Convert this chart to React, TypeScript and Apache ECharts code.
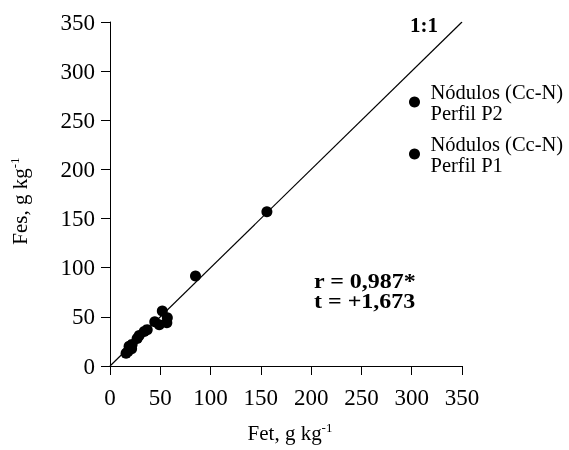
import React, { useEffect, useRef } from "react";
import * as echarts from "echarts";

const FONT = "Liberation Serif";

const seriesNames = ["Nódulos (Cc-N)\nPerfil P2", "Nódulos (Cc-N)\nPerfil P1"];

const perfilP2: [number, number][] = [
  [156, 157], [85, 91.5], [52, 56], [57, 49], [56.5, 44], [49, 42], [44.5, 45], [37, 37], [34, 35],
];
const perfilP1: [number, number][] = [
  [29, 31], [27, 28], [22, 22], [19, 20], [21.5, 17.5], [16, 13], [18, 15],
];
const identityLine: [number, number][] = [[0, 0], [350, 350]];

const axisMin = 0;
const axisMax = 350;
const axisStep = 50;

const annotationLines = ["r = 0,987*", "t = +1,673"];
const identityLabel = "1:1";

export default function App() {
  const ref = useRef<HTMLDivElement>(null);
  useEffect(() => {
    if (!ref.current) return;
    const chart = echarts.init(ref.current, null, { renderer: "svg" });
    const nameRich = {
      n: { fontFamily: FONT, fontSize: 21, color: "#000", lineHeight: 24 },
      sup: { fontFamily: FONT, fontSize: 13, color: "#000", lineHeight: 13, verticalAlign: "top" },
    };
    const axisCommon = {
      type: "value" as const,
      min: axisMin,
      max: axisMax,
      interval: axisStep,
      splitLine: { show: false },
      axisLine: { show: true, onZero: false, lineStyle: { color: "#000", width: 1 } },
      axisTick: { show: true, inside: false, length: 9, lineStyle: { color: "#000", width: 1 } },
      nameLocation: "middle" as const,
    };
    chart.setOption({
      animation: false,
      textStyle: { fontFamily: FONT },
      grid: { left: 110, right: 107, top: 22, bottom: 76, containLabel: false },
      xAxis: {
        ...axisCommon,
        name: "{n|Fet, g kg}{sup|-1}",
        nameGap: 55,
        nameTextStyle: {
          fontFamily: FONT, fontSize: 21, color: "#000", lineHeight: 24,
          padding: [0, 0, 0, 8],
          rich: nameRich,
        },
        axisLabel: { fontFamily: FONT, fontSize: 23, color: "#000", margin: 20 },
      },
      yAxis: {
        ...axisCommon,
        name: "{n|Fes, g kg}{sup|-1}",
        nameGap: 78,
        nameTextStyle: {
          fontFamily: FONT, fontSize: 21, color: "#000", lineHeight: 24,
          padding: [0, 14, 0, 0],
          rich: nameRich,
        },
        axisLabel: { fontFamily: FONT, fontSize: 23, color: "#000", margin: 15 },
      },
      legend: {
        data: seriesNames,
        orient: "vertical",
        left: 404,
        top: 76,
        itemGap: 10,
        itemWidth: 22,
        itemHeight: 11,
        icon: "circle",
        itemStyle: { opacity: 1 },
        textStyle: { fontFamily: FONT, fontSize: 20.5, color: "#000", lineHeight: 21 },
      },
      graphic: [
        {
          type: "text",
          left: 410,
          top: 14,
          style: { text: identityLabel, fontFamily: FONT, fontWeight: "bold", fontSize: 21, fill: "#000" },
        },
        {
          type: "text",
          x: 314,
          y: 271,
          scaleX: 1.2,
          style: {
            text: annotationLines.join("\n"),
            fontFamily: FONT,
            fontWeight: "bold",
            fontSize: 20,
            lineHeight: 20,
            fill: "#000",
            verticalAlign: "top",
            align: "left",
          },
        },
      ],
      series: [
        {
          type: "line",
          data: identityLine,
          symbol: "none",
          silent: true,
          lineStyle: { color: "#000", width: 1.2 },
          z: 1,
        },
        {
          name: seriesNames[0],
          type: "scatter",
          data: perfilP2,
          symbol: "circle",
          symbolSize: 11,
          itemStyle: { color: "#000", opacity: 1 },
          z: 3,
        },
        {
          name: seriesNames[1],
          type: "scatter",
          data: perfilP1,
          symbol: "circle",
          symbolSize: 11,
          itemStyle: { color: "#000", opacity: 1 },
          z: 3,
        },
      ],
    });
    return () => chart.dispose();
  }, []);
  return <div ref={ref} style={{ position: "fixed", left: 0, top: 0, width: 569, height: 450 }} />;
}
